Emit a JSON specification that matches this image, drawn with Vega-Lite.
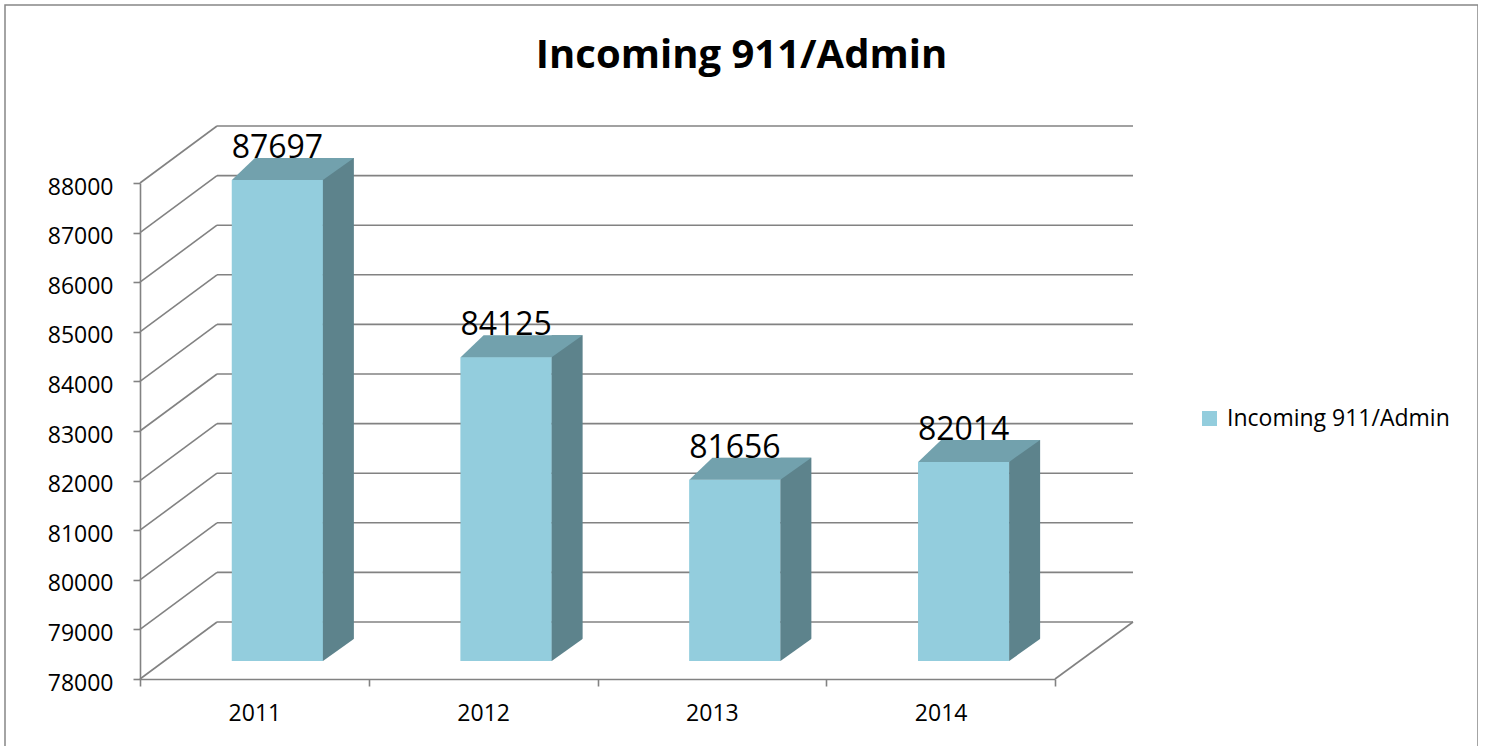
{
  "$schema": "https://vega.github.io/schema/vega-lite/v6.json",
  "width": 1473,
  "height": 745,
  "autosize": {"type": "none"},
  "padding": {"left": 5, "top": 5, "right": 0, "bottom": 0},
  "background": "white",
  "config": {"view": {"stroke": "#878787", "strokeWidth": 1.5}, "font": "Open Sans"},
  "title": {"text": "Incoming 911/Admin", "fontSize": 40, "fontWeight": "bold", "font": "Open Sans", "color": "black", "anchor": "middle", "frame": "group", "baseline": "alphabetic", "offset": -103},
  "datasets": {
    "bars": [
      {"year": "2011", "value": 87697},
      {"year": "2012", "value": 84125},
      {"year": "2013", "value": 81656},
      {"year": "2014", "value": 82014}
    ],
    "ticks": [
      {"v": 78000}, {"v": 79000}, {"v": 80000}, {"v": 81000}, {"v": 82000}, {"v": 83000},
      {"v": 84000}, {"v": 85000}, {"v": 86000}, {"v": 87000}, {"v": 88000}
    ]
  },
  "layer": [
    {
      "data": {"name": "bars"},
      "mark": {"type": "bar", "width": 91, "xOffset": 23, "yOffset": -18, "y2Offset": -18},
      "encoding": {
        "x": {"field": "year", "type": "nominal",
          "scale": {"type": "band", "range": [135, 1050], "paddingInner": 0, "paddingOuter": 0},
          "axis": {"title": null, "orient": "bottom", "labelAngle": 0, "tickBand": "extent", "tickSize": 7, "offset": -71,
            "domainColor": "#828282", "domainWidth": 1.6, "tickColor": "#828282", "tickWidth": 1.6,
            "labelFontSize": 23, "labelFont": "Open Sans", "labelColor": "black", "labelPadding": 16, "grid": false}},
        "y": {"field": "value", "type": "quantitative",
          "scale": {"domain": [78000, 88000], "range": [674, 178], "nice": false, "zero": false},
          "axis": {"title": null, "values": [78000, 79000, 80000, 81000, 82000, 83000, 84000, 85000, 86000, 87000, 88000],
            "format": "d", "grid": false, "offset": -135, "domainColor": "#828282", "domainWidth": 1.6,
            "tickColor": "#828282", "tickWidth": 1.6, "tickSize": 7, "labelFontSize": 23, "labelFont": "Open Sans",
            "labelColor": "black", "labelPadding": 20, "labelOffset": 4, "labelFlush": false, "labelOverlap": false, "labelBound": false}},
        "y2": {"datum": 78000},
        "color": {"datum": "Incoming 911/Admin", "type": "nominal", "scale": {"range": ["#93CDDD"]},
          "legend": {"orient": "none", "legendX": 1193, "legendY": 402, "title": null, "symbolType": "square", "symbolSize": 225,
            "symbolStrokeWidth": 0, "labelFontSize": 23, "labelFont": "Open Sans", "labelColor": "black", "labelOffset": 6, "labelLimit": 400, "padding": 0}}
      }
    },
    {
      "data": {"name": "ticks"},
      "mark": {"type": "rule", "color": "#828282", "strokeWidth": 1.6, "xOffset": 77, "x2Offset": 78, "yOffset": -57},
      "encoding": {
        "x": {"datum": "2011", "type": "nominal", "bandPosition": 0},
        "x2": {"datum": "2014", "bandPosition": 1},
        "y": {"field": "v", "type": "quantitative"}
      }
    },
    {
      "data": {"name": "ticks"},
      "mark": {"type": "rule", "color": "#828282", "strokeWidth": 1.6, "x2Offset": 77, "y2Offset": -57},
      "encoding": {
        "x": {"datum": "2011", "type": "nominal", "bandPosition": 0},
        "x2": {"datum": "2011", "bandPosition": 0},
        "y": {"field": "v", "type": "quantitative"},
        "y2": {"field": "v"}
      }
    },
    {
      "data": {"name": "ticks"},
      "transform": [{"filter": "datum.v == 78000"}],
      "mark": {"type": "rule", "color": "#828282", "strokeWidth": 1.6, "x2Offset": 78, "y2Offset": -57},
      "encoding": {
        "x": {"datum": "2014", "type": "nominal", "bandPosition": 1},
        "x2": {"datum": "2014", "bandPosition": 1},
        "y": {"field": "v", "type": "quantitative"},
        "y2": {"field": "v"}
      }
    },
    {
      "data": {"name": "bars"},
      "mark": {"type": "bar", "width": 91, "xOffset": 23, "yOffset": -18, "y2Offset": -18, "color": "#93CDDD"},
      "encoding": {
        "x": {"field": "year", "type": "nominal"},
        "y": {"field": "value", "type": "quantitative"},
        "y2": {"datum": 78000}
      }
    },
    {
      "data": {"name": "bars"},
      "mark": {"type": "bar", "width": 31, "xOffset": 84, "yOffset": -40, "y2Offset": -18, "color": "#5D838C"},
      "encoding": {
        "x": {"field": "year", "type": "nominal"},
        "y": {"field": "value", "type": "quantitative"},
        "y2": {"datum": 78000}
      }
    },
    {
      "data": {"name": "bars"},
      "mark": {"type": "point", "shape": "M-0.455,0L0.455,0L0.765,-0.22L-0.225,-0.22Z", "size": 40000, "filled": true, "opacity": 1, "color": "#72A1AD", "strokeWidth": 0, "xOffset": 23, "yOffset": -18},
      "encoding": {
        "x": {"field": "year", "type": "nominal"},
        "y": {"field": "value", "type": "quantitative"}
      }
    },
    {
      "data": {"name": "bars"},
      "mark": {"type": "point", "shape": "M0.449,0.0043L0.785,0.0043L0.785,-0.2342Z", "size": 40000, "filled": true, "opacity": 1, "color": "white", "strokeWidth": 0, "xOffset": 23, "yOffset": -18},
      "encoding": {
        "x": {"field": "year", "type": "nominal"},
        "y": {"datum": 78000, "type": "quantitative"}
      }
    },
    {
      "data": {"name": "bars"},
      "mark": {"type": "text", "fontSize": 32, "font": "Open Sans", "color": "black", "baseline": "alphabetic", "align": "center", "xOffset": 23, "yOffset": -40},
      "encoding": {
        "x": {"field": "year", "type": "nominal"},
        "y": {"field": "value", "type": "quantitative"},
        "text": {"field": "value", "type": "quantitative", "format": "d"}
      }
    }
  ]
}
